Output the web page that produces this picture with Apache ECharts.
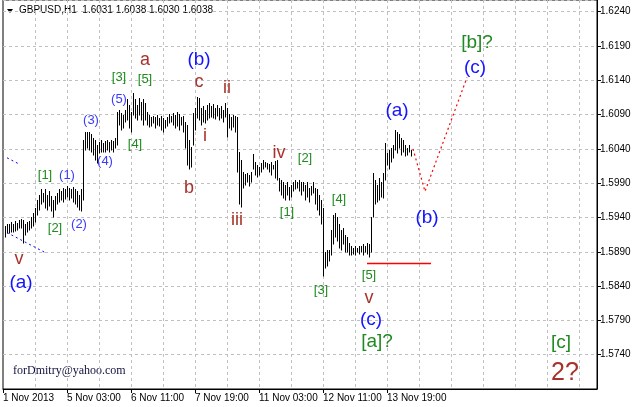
<!DOCTYPE html>
<html><head><meta charset="utf-8">
<script src="https://cdn.jsdelivr.net/npm/echarts@6/dist/echarts.min.js"></script>
<style>html,body{margin:0;padding:0;background:#fff}#c{width:635px;height:407px}</style>
</head><body><div id="c"></div>
<script>
// ---- data ----
const symbolTitle = 'GBPUSD,H1';
const lastOHLC = [1.6031, 1.6038, 1.6030, 1.6038];
const watermark = 'forDmitry@yahoo.com';
const slotCount = 298;          // bar slots across the visible window
const firstBarSlot = 1;
const barHigh = [
1.5927,1.5930,1.5931,1.5934,1.5931,1.5935,1.5932,1.5937,1.5938,1.5937,
1.5931,1.5934,1.5935,1.5941,1.5947,1.5954,1.5966,1.5973,1.5981,1.5976,
1.5981,1.5973,1.5978,1.5972,1.5966,1.5972,1.5976,1.5981,1.5978,1.5983,
1.5981,1.5986,1.5983,1.5981,1.5985,1.5982,1.5978,1.5973,1.5981,1.6053,
1.6064,1.6064,1.6065,1.6061,1.6056,1.6053,1.6046,1.6050,1.6053,1.6049,
1.6052,1.6053,1.6050,1.6053,1.6052,1.6056,1.6094,1.6097,1.6093,1.6090,
1.6097,1.6112,1.6104,1.6094,1.6122,1.6112,1.6104,1.6114,1.6109,1.6112,
1.6107,1.6094,1.6090,1.6087,1.6088,1.6087,1.6090,1.6085,1.6088,1.6085,
1.6082,1.6087,1.6091,1.6088,1.6093,1.6090,1.6094,1.6091,1.6087,1.6088,
1.6079,1.6075,1.6053,1.6043,1.6093,1.6100,1.6116,1.6114,1.6100,1.6103,
1.6097,1.6104,1.6107,1.6103,1.6106,1.6100,1.6104,1.6100,1.6103,1.6097,
1.6107,1.6100,1.6091,1.6087,1.6090,1.6088,1.6087,1.6036,1.6024,1.6007,
1.6004,1.6005,1.6002,1.6007,1.6033,1.6021,1.6017,1.6013,1.6020,1.6024,
1.6021,1.6020,1.6018,1.6021,1.6017,1.6023,1.6024,1.5998,1.5995,1.5992,
1.5988,1.5991,1.5985,1.5988,1.5991,1.5995,1.5992,1.5994,1.5991,1.5992,
1.5988,1.5991,1.5983,1.5986,1.5991,1.5983,1.5981,1.5973,1.5966,1.5954,
1.5890,1.5893,1.5893,1.5922,1.5944,1.5947,1.5940,1.5930,1.5922,1.5925,
1.5915,1.5912,1.5903,1.5899,1.5896,1.5898,1.5896,1.5899,1.5898,1.5901,
1.5899,1.5903,1.5901,1.5941,1.6005,1.5995,1.5988,1.5998,1.5992,1.6005,
1.6049,1.6034,1.6039,1.6042,1.6046,1.6068,1.6065,1.6061,1.6056,1.6053,
1.6046,1.6042,1.6045,1.6038];
const barLow = [
1.5912,1.5917,1.5918,1.5919,1.5919,1.5921,1.5922,1.5924,1.5925,1.5903,
1.5915,1.5919,1.5922,1.5925,1.5928,1.5934,1.5944,1.5951,1.5959,1.5962,
1.5954,1.5951,1.5957,1.5949,1.5941,1.5951,1.5959,1.5962,1.5966,1.5963,
1.5967,1.5970,1.5966,1.5969,1.5963,1.5959,1.5956,1.5951,1.5949,1.5966,
1.6039,1.6042,1.6039,1.6036,1.6031,1.6024,1.6020,1.6034,1.6036,1.6036,
1.6036,1.6039,1.6036,1.6039,1.6036,1.6042,1.6046,1.6075,1.6068,1.6071,
1.6079,1.6082,1.6071,1.6064,1.6090,1.6085,1.6082,1.6090,1.6082,1.6075,
1.6082,1.6075,1.6072,1.6074,1.6077,1.6071,1.6075,1.6074,1.6068,1.6065,
1.6071,1.6074,1.6077,1.6079,1.6075,1.6071,1.6074,1.6068,1.6075,1.6065,
1.6042,1.6017,1.6010,1.6013,1.6046,1.6068,1.6085,1.6082,1.6075,1.6079,
1.6078,1.6082,1.6085,1.6087,1.6085,1.6084,1.6088,1.6082,1.6085,1.6079,
1.6087,1.6058,1.6071,1.6068,1.6072,1.6064,1.6007,1.5959,1.5956,1.5983,
1.5988,1.5991,1.5986,1.5992,1.6010,1.6002,1.5999,1.6002,1.6007,1.6010,
1.6013,1.6010,1.6007,1.6002,1.6010,1.5998,1.5995,1.5978,1.5973,1.5969,
1.5966,1.5973,1.5966,1.5970,1.5978,1.5981,1.5983,1.5978,1.5973,1.5978,
1.5966,1.5970,1.5963,1.5973,1.5976,1.5959,1.5951,1.5944,1.5930,1.5854,
1.5867,1.5870,1.5876,1.5886,1.5901,1.5912,1.5905,1.5896,1.5893,1.5901,
1.5889,1.5890,1.5886,1.5885,1.5887,1.5886,1.5889,1.5887,1.5889,1.5886,
1.5890,1.5887,1.5883,1.5889,1.5941,1.5959,1.5962,1.5966,1.5970,1.5969,
1.5995,1.6017,1.6010,1.6021,1.6027,1.6039,1.6034,1.6042,1.6031,1.6036,
1.6030,1.6031,1.6036,1.6030];
const timeLabelSlots = [0, 32, 64, 96, 128, 160, 192];
const timeLabels = ['1 Nov 2013','5 Nov 03:00','6 Nov 11:00','7 Nov 19:00','11 Nov 03:00','12 Nov 11:00','13 Nov 19:00'];
const gridSlotStep = 16;
const priceMin = 1.5690, priceMax = 1.6257, priceStep = 0.0050;
// wave labels
const waveText  = ['(a)','v','[1]','(1)','[2]','(2)','(3)','(4)','(5)','[3]','[4]','[5]','a','(b)','c','ii','i','b','iii','iv','[2]','[1]','[4]','[3]','[5]','v','(c)','[a]?','(a)','(b)','[b]?','(c)','[c]','2?'];
const waveSlot  = [8.5,7.5,21,31.5,25.5,38,43.5,51,57.5,57.5,65.5,70.5,70.5,97.5,97.5,111.5,101,92.5,116.5,137.5,151,141.5,167.5,158.5,182.5,183,183.5,187,196.5,212,237,235.5,278.5,281];
const wavePrice = [1.5845,1.5879,1.6001,1.6001,1.5924,1.5930,1.6081,1.6022,1.6112,1.6144,1.6047,1.6141,1.6170,1.6170,1.6138,1.6129,1.6058,1.5983,1.5937,1.6034,1.6026,1.5947,1.5967,1.5834,1.5855,1.5823,1.5791,1.5759,1.6096,1.5940,1.6194,1.6158,1.5757,1.5713];
const waveKind  = ['B','r','g','w','g','w','w','w','w','g','g','g','r','B','r','r','r','r','r','r','g','g','g','g','g','r','B','G','B','B','G','B','G','R'];
// drawn lines
const projSlots = [205, 211, 232];
const projPrices = [1.6040, 1.5978, 1.6144];
const supportSlots = [182, 214];
const supportPrice = 1.5873;
const chanUpperSlots = [2, 8];
const chanUpperPrices = [1.6027, 1.6018];
const chanLowerSlots = [2, 21];
const chanLowerPrices = [1.5918, 1.5889];

// ---- chart ----
const kindStyle = {
  w: {size: 13, color: '#3b3bff'},
  B: {size: 19, color: '#1414ff'},
  g: {size: 13, color: '#1f8a1f'},
  G: {size: 19, color: '#1f8a1f'},
  r: {size: 18, color: '#a8322a'},
  R: {size: 25, color: '#a8322a'}
};
const FONT = '"Liberation Sans", Arial, sans-serif';
const chart = echarts.init(document.getElementById('c'), null, {renderer: 'canvas'});
const slots = Array.from({length: slotCount}, (_, i) => String(i));
const isLabelSlot = (i) => timeLabelSlots.indexOf(i) >= 0;
const dash = {color: '#c0c0c0', type: [3, 3], width: 1};

const bars = barHigh.map((h, i) => [firstBarSlot + i, barLow[i], h]);
const waves = waveText.map((t, i) => [waveSlot[i], wavePrice[i], i]);

chart.setOption({
  animation: false,
  backgroundColor: '#fff',
  grid: {left: 3, right: 38, top: 0, bottom: 18, show: true, borderColor: '#000', borderWidth: 1, backgroundColor: 'transparent'},
  xAxis: {
    type: 'category', data: slots, boundaryGap: false,
    axisLine: {show: true, lineStyle: {color: '#000'}},
    axisTick: {show: true, interval: (i) => isLabelSlot(i), length: 4, lineStyle: {color: '#000'}},
    axisLabel: {
      interval: (i) => isLabelSlot(i), hideOverlap: false, align: 'left', margin: 4,
      color: '#000', fontSize: 10, fontFamily: FONT,
      formatter: (v, i) => { const k = timeLabelSlots.indexOf(i); return k >= 0 ? timeLabels[k] : ''; }
    },
    splitLine: {show: true, interval: (i) => i % gridSlotStep === 0 && i > 0, lineStyle: dash}
  },
  yAxis: {
    type: 'value', position: 'right', min: priceMin, max: priceMax, interval: priceStep, scale: true,
    axisLine: {show: true, lineStyle: {color: '#000'}},
    axisTick: {show: true, length: 4, lineStyle: {color: '#000'}},
    axisLabel: {color: '#000', fontSize: 10, fontFamily: FONT, margin: 3, showMinLabel: false, showMaxLabel: false,
      formatter: (v) => v.toFixed(4)},
    splitLine: {show: true, lineStyle: dash}
  },
  graphic: [
    {type: 'polygon', shape: {points: [[7, 9], [13, 9], [10, 13]]}, style: {fill: '#000'}},
    {type: 'text', left: 19, top: 5, style: {text: symbolTitle + '  ' + lastOHLC.map(v => v.toFixed(4)).join(' '), fill: '#000', font: '10px ' + FONT}},
    {type: 'text', left: 13, top: 365, style: {text: watermark, fill: '#101040', font: '12px "Liberation Serif", "Times New Roman", serif'}}
  ],
  series: [
    {
      type: 'custom', name: 'bars', data: bars, encode: {x: 0, y: [1, 2]}, z: 3,
      renderItem: (params, api) => {
        const lo = api.coord([api.value(0), api.value(1)]);
        const hi = api.coord([api.value(0), api.value(2)]);
        const x = Math.round(lo[0]) + 0.5;
        return {type: 'line', shape: {x1: x, y1: Math.round(lo[1]) + 0.5, x2: x, y2: Math.round(hi[1])}, style: {stroke: '#000', lineWidth: 1}};
      }
    },
    {type: 'line', data: chanUpperSlots.map((s, i) => [s, chanUpperPrices[i]]), symbol: 'none', z: 2,
      lineStyle: {color: '#0000ff', width: 1, type: [2, 3]}},
    {type: 'line', data: chanLowerSlots.map((s, i) => [s, chanLowerPrices[i]]), symbol: 'none', z: 2,
      lineStyle: {color: '#0000ff', width: 1, type: [2, 3]}},
    {type: 'line', data: supportSlots.map(s => [s, supportPrice]), symbol: 'none', z: 2,
      lineStyle: {color: '#ff0000', width: 1.6}},
    {type: 'line', data: projSlots.map((s, i) => [s, projPrices[i]]), symbol: 'none', z: 2,
      lineStyle: {color: '#ff0000', width: 1.2, type: [2, 3]}},
    {
      type: 'custom', name: 'waves', data: waves, z: 5, clip: false,
      renderItem: (params, api) => {
        const p = api.coord([api.value(0), api.value(1)]);
        const i = api.value(2);
        const st = kindStyle[waveKind[i]];
        return {type: 'text', x: p[0], y: p[1], style: {text: waveText[i], fill: st.color, font: st.size + 'px ' + FONT, align: 'center', verticalAlign: 'middle'}};
      }
    }
  ]
});
</script></body></html>
